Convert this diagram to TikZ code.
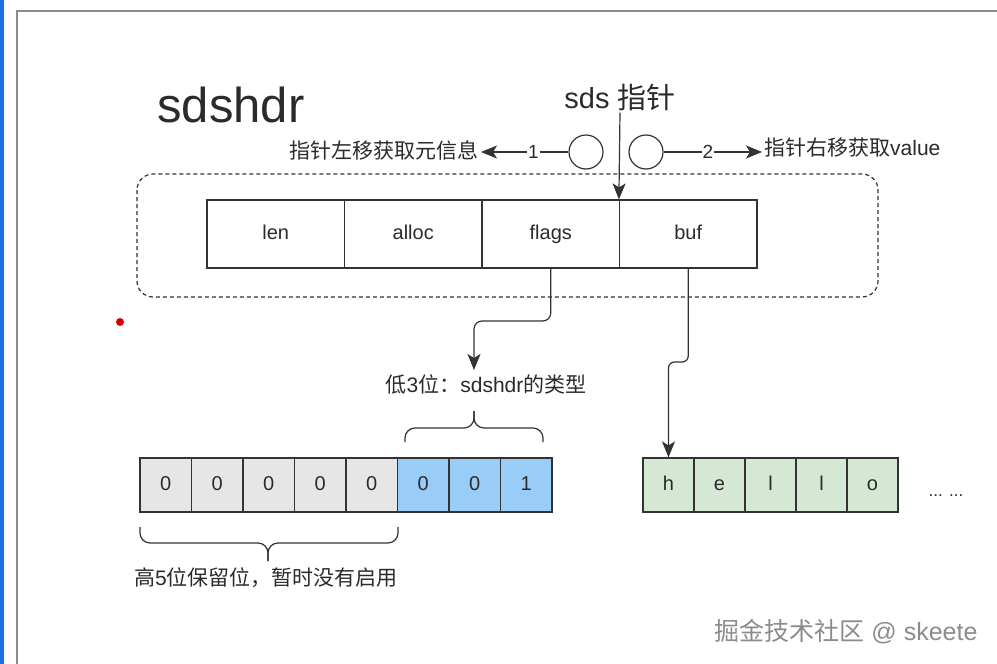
\documentclass[tikz,border=0pt]{standalone}
\usepackage{fontspec}
\setmainfont{Liberation Sans}
\newfontfamily\cjk{Noto Sans CJK SC}
\usetikzlibrary{arrows.meta}
\definecolor{ink}{HTML}{2B2B2B}
\definecolor{line}{HTML}{333333}
\definecolor{highbit}{HTML}{E6E6E6}
\definecolor{lowbit}{HTML}{99CCF7}
\definecolor{charbox}{HTML}{D5E8D4}
\definecolor{framegray}{HTML}{8C8C8C}
\definecolor{edgeblue}{HTML}{1E6FE6}

\begin{document}
\begin{tikzpicture}[x=1pt,y=-1pt,
	field/.style={draw=line, line width=1.2pt, minimum width=137.5pt, minimum height=68pt, inner sep=0pt, text height=14pt, text depth=4pt, text=ink, font=\fontsize{20}{22}\selectfont},
	bitbox/.style={draw=line, line width=1.2pt, minimum width=51.5pt, minimum height=54pt, inner sep=0pt, text height=14pt, text depth=3pt, text=ink, font=\fontsize{20}{22}\selectfont},
	charcell/.style={bitbox, fill=charbox, minimum width=51pt},
	ring/.style={draw=line, circle, line width=1.2pt, minimum size=34pt, inner sep=0pt},
	note/.style={text=ink, inner sep=2pt, font=\fontsize{21}{24}\selectfont},
	ptrarrow/.style={draw=line, line width=1.2pt, -{Stealth[length=16pt,width=13pt,inset=4pt]}},
	brace/.style={draw=line, line width=1.2pt, rounded corners=10pt}]
	\useasboundingbox (0,0) rectangle (997,664);
	\fill[white] (0,0) rectangle (997,664);
	\fill[edgeblue] (0,0) rectangle (4,664);
	\draw[framegray, line width=1.5pt] (17,664) -- (17,11) -- (997,11);
	\fill[red!85!black] (120,322) circle (4);

	\node[text=ink, inner sep=0pt, font=\fontsize{49}{52}\selectfont] (title) at (231,105) {sdshdr};
	\node[text=ink, inner sep=2pt, font=\fontsize{29}{32}\selectfont] (ptr) at (620,97) {sds {\cjk 指针}};

	\node[ring] (metaring) at (586,152) {};
	\node[ring] (valring) at (646,152) {};
	\node[note, anchor=east] (metatext) at (481,150) {\cjk 指针左移获取元信息};
	\node[note, anchor=west] (valtext) at (762,148) {{\cjk 指针右移获取}value};
	\draw[ptrarrow] (metaring.west) -- node[pos=0.4, fill=white, inner sep=1pt, text=ink, font=\fontsize{19}{20}\selectfont] {1} (metaring.west -| metatext.east);
	\draw[ptrarrow] (valring.east) -- node[pos=0.45, fill=white, inner sep=1pt, text=ink, font=\fontsize{19}{20}\selectfont] {2} (valring.east -| valtext.west);

	\draw[line, line width=1.2pt, dash pattern=on 4pt off 3pt, rounded corners=16pt] (137,174) rectangle (878,297);
	\node[field] (len) at (275.75,234) {len};
	\node[field] (alloc) at (413.25,234) {alloc};
	\node[field] (flags) at (550.75,234) {flags};
	\node[field] (buf) at (688.25,234) {buf};
	\draw[ptrarrow] (ptr.south) -- (buf.north west);

	\node[note, anchor=north, inner sep=2pt] (lowtype) at (486,373) {{\cjk 低}3{\cjk 位：}sdshdr{\cjk 的类型}};
	\coordinate (flagsturn) at (550.75,321);
	\coordinate (typeentry) at (474,370);
	\draw[ptrarrow, rounded corners=8pt] (flags.south) -- (flagsturn) -| (typeentry);

	\draw[brace] (405,442) -- (405,428) -- (474,428) -- (474,411);
	\draw[brace] (543,442) -- (543,428) -- (474,428) -- (474,411);

	\node[bitbox, fill=highbit] (b7) at (165.75,485) {0};
	\node[bitbox, fill=highbit] (b6) at (217.25,485) {0};
	\node[bitbox, fill=highbit] (b5) at (268.75,485) {0};
	\node[bitbox, fill=highbit] (b4) at (320.25,485) {0};
	\node[bitbox, fill=highbit] (b3) at (371.75,485) {0};
	\node[bitbox, fill=lowbit] (b2) at (423.25,485) {0};
	\node[bitbox, fill=lowbit] (b1) at (474.75,485) {0};
	\node[bitbox, fill=lowbit] (b0) at (526.25,485) {1};

	\draw[brace] (140,527) -- (140,543) -- (268,543) -- (268,561);
	\draw[brace] (398,527) -- (398,543) -- (268,543) -- (268,561);
	\node[note, anchor=west] (reserved) at (132,578) {{\cjk 高}5{\cjk 位保留位，暂时没有启用}};

	\node[charcell] (ch) at (668.5,485) {h};
	\node[charcell] (ce) at (719.5,485) {e};
	\node[charcell] (cl) at (770.5,485) {l};
	\node[charcell] (cll) at (821.5,485) {l};
	\node[charcell] (co) at (872.5,485) {o};
	\node[text=ink, font=\fontsize{17}{18}\selectfont] (more) at (946,496) {... ...};
	\coordinate (bufturn) at (688.25,362);
	\draw[ptrarrow, rounded corners=6pt] (buf.south) -- (bufturn) -| (ch.north);

	\node[text=framegray, font=\fontsize{25}{28}\selectfont] (mark) at (846,632) {{\cjk 掘金技术社区} @ skeete};
\end{tikzpicture}
\end{document}
